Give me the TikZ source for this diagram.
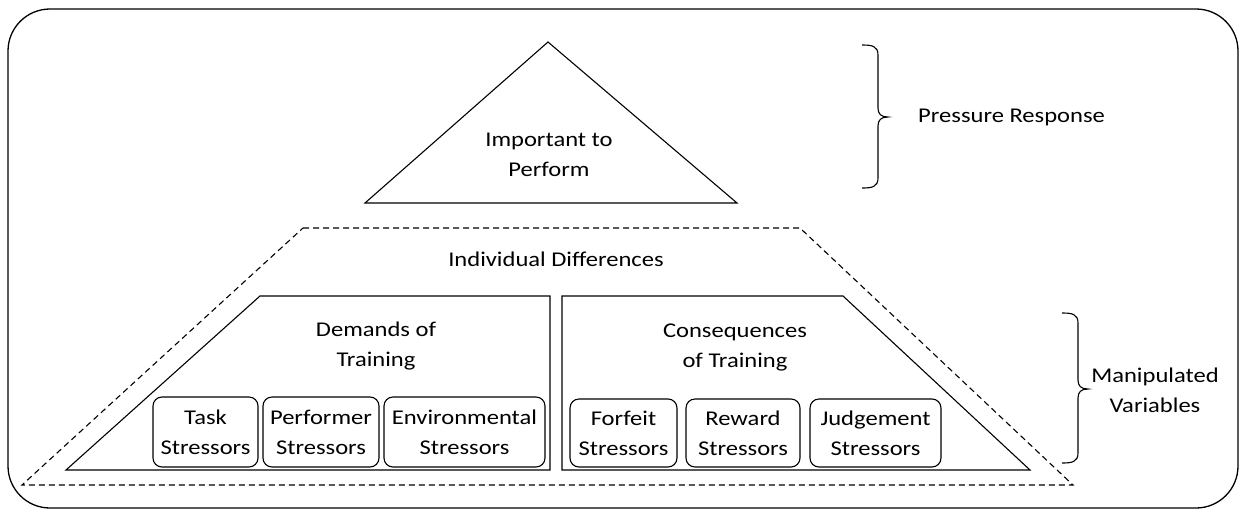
\documentclass[tikz,border=0pt]{standalone}
\usepackage{fontspec}
\setmainfont{Carlito}[FakeStretch=1.17]
\begin{document}
\begin{tikzpicture}[x=1pt,y=-1pt,
  txt/.style={align=center,inner sep=0pt,font=\fontsize{21}{30}\selectfont,text=black},
  sbox/.style={draw,rounded corners=9pt,line width=1.1pt,align=center,inner sep=0pt,font=\fontsize{21}{30}\selectfont,text=black},
  shape line/.style={draw,line width=1.1pt},
  dash line/.style={draw,line width=1.1pt,dash pattern=on 6pt off 4pt}]
\useasboundingbox (0,0) rectangle (1245,512);
% outer frame
\draw[line width=1.3pt,rounded corners=42pt] (8,9) rectangle (1238,508);
% triangle
\coordinate (tA) at (548,42);
\coordinate (tL) at (365,203);
\coordinate (tR) at (737,203);
\draw[shape line] (tA) -- (tR) -- (tL) -- cycle;
\node[txt] (imp) at (549,155) {Important to\\Perform};
% pressure brace
\coordinate (b1t) at (862,45);
\coordinate (b1b) at (862,188);
\draw[line width=1.1pt] (b1t) .. controls (872,45) and (878,46) .. (878,55) -- (878,108)
  .. controls (878,114) and (881,117) .. (888,117)
  .. controls (881,117) and (878,120) .. (878,126) -- (878,178)
  .. controls (878,187) and (872,188) .. (b1b);
\node[txt,anchor=west] (press) at (918,117) {Pressure Response};
% dashed trapezoid
\coordinate (dTL) at (303,228);
\coordinate (dTR) at (800,228);
\coordinate (dBR) at (1073,485);
\coordinate (dBL) at (22,485);
\draw[dash line] (dTL) -- (dTR) -- (dBR) -- (dBL) -- cycle;
\node[txt] (ind) at (556,259) {Individual Differences};
% left trapezoid
\coordinate (lTL) at (260,296);
\coordinate (lTR) at (550,296);
\coordinate (lBR) at (550,470);
\coordinate (lBL) at (66,470);
\draw[shape line] (lTL) -- (lTR) -- (lBR) -- (lBL) -- cycle;
\node[txt] (dem) at (376,346) {Demands of\\Training};
% right trapezoid
\coordinate (rTL) at (562,296);
\coordinate (rTR) at (843,296);
\coordinate (rBR) at (1030,470);
\coordinate (rBL) at (562,470);
\draw[shape line] (rTL) -- (rTR) -- (rBR) -- (rBL) -- cycle;
\node[txt] (con) at (735,347) {Consequences\\of Training};
% stressor boxes
\node[sbox,minimum width=105pt,minimum height=70pt] (task) at (205.5,432) {Task\\Stressors};
\node[sbox,minimum width=116pt,minimum height=70pt] (perf) at (321,432) {Performer\\Stressors};
\node[sbox,minimum width=161pt,minimum height=70pt] (env) at (464.5,432) {Environmental\\Stressors};
\node[sbox,minimum width=107pt,minimum height=68pt] (forf) at (623.5,433) {Forfeit\\Stressors};
\node[sbox,minimum width=114pt,minimum height=68pt] (rew) at (743,433) {Reward\\Stressors};
\node[sbox,minimum width=131pt,minimum height=68pt] (judg) at (875.5,433) {Judgement\\Stressors};
% manipulated brace
\coordinate (b2t) at (1062,313);
\coordinate (b2b) at (1062,463);
\draw[line width=1.1pt] (b2t) .. controls (1072,313) and (1078,314) .. (1078,323) -- (1078,380)
  .. controls (1078,386) and (1081,389) .. (1088,389)
  .. controls (1081,389) and (1078,392) .. (1078,398) -- (1078,453)
  .. controls (1078,462) and (1072,463) .. (b2b);
\node[txt] (man) at (1155,390) {Manipulated\\Variables};
\end{tikzpicture}
\end{document}
